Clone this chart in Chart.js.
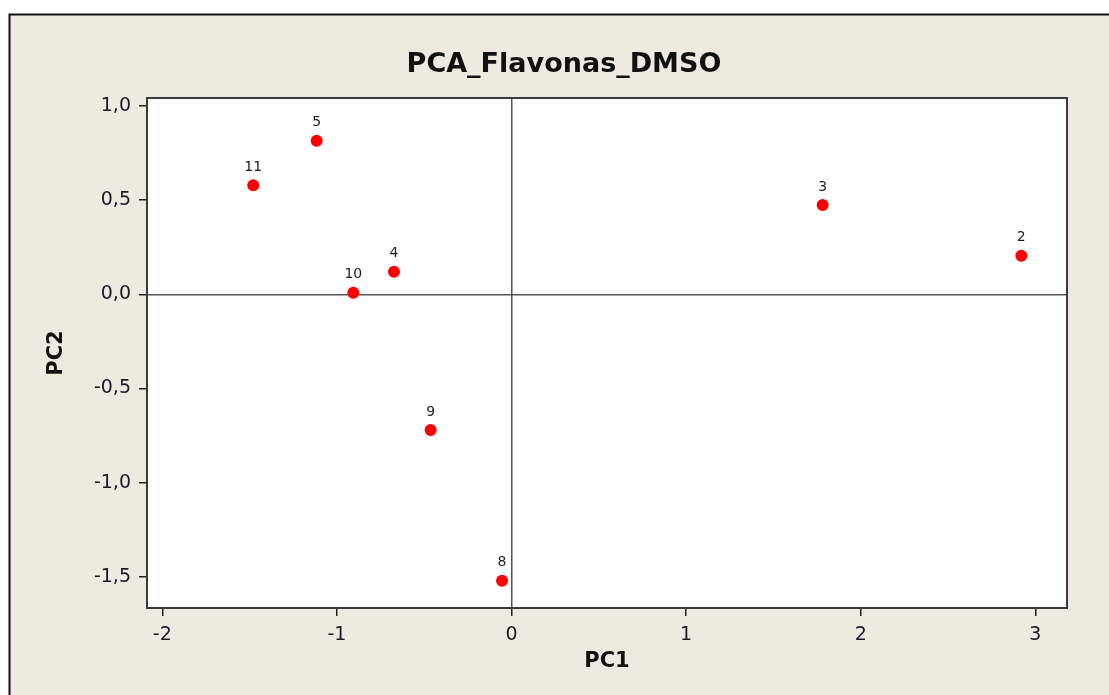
<!DOCTYPE html>
<html>
<head>
<meta charset="utf-8">
<title>PCA_Flavonas_DMSO</title>
<script src="https://cdn.jsdelivr.net/npm/chart.js@4.4.1/dist/chart.umd.min.js"></script>
<style>
  html, body { margin: 0; padding: 0; background: #ffffff; }
  #wrap { width: 1109px; height: 695px; }
</style>
</head>
<body>
<div id="wrap"><canvas id="pca" width="1109" height="695"></canvas></div>
<script>
// Scores of each flavone sample on the first two principal components
const sampleIds = ['2', '3', '4', '5', '8', '9', '10', '11'];
const pc1Scores = [2.920, 1.782, -0.673, -1.116, -0.054, -0.463, -0.906, -1.479];
const pc2Scores = [0.205, 0.474, 0.120, 0.816, -1.521, -0.721, 0.008, 0.579];

// Axis ticks
const pc1Ticks = [-2, -1, 0, 1, 2, 3];
const pc2Ticks = [1.0, 0.5, 0.0, -0.5, -1.0, -1.5];

const chartTitle = 'PCA_Flavonas_DMSO';
const xTitle = 'PC1';
const yTitle = 'PC2';

const FONT = '"DejaVu Sans", Verdana, Tahoma, sans-serif';
const FRAME_BG = '#eeeae0';
const TEXT = '#1b1b2a';

const points = pc1Scores.map((x, i) => ({ x: x, y: pc2Scores[i] }));

// Frame, plot background, title, point labels and plot border
const decorations = {
  id: 'decorations',
  beforeDraw(chart) {
    const { ctx, chartArea: a, width, height } = chart;
    ctx.save();
    ctx.fillStyle = '#ffffff';
    ctx.fillRect(0, 0, width, height);
    ctx.fillStyle = FRAME_BG;
    ctx.fillRect(10, 15, width - 10, height - 15);
    ctx.strokeStyle = '#111111';
    ctx.lineWidth = 2;
    ctx.beginPath();
    ctx.moveTo(9.5, height);
    ctx.lineTo(9.5, 14.5);
    ctx.lineTo(width, 14.5);
    ctx.stroke();
    ctx.fillStyle = '#ffffff';
    ctx.fillRect(a.left, a.top, a.right - a.left, a.bottom - a.top);
    ctx.restore();
  },
  afterDatasetsDraw(chart) {
    const { ctx } = chart;
    const meta = chart.getDatasetMeta(0);
    ctx.save();
    ctx.font = '14px ' + FONT;
    ctx.fillStyle = TEXT;
    ctx.textAlign = 'center';
    ctx.textBaseline = 'middle';
    meta.data.forEach((el, i) => {
      ctx.fillText(sampleIds[i], el.x, el.y - 18);
    });
    ctx.restore();
  },
  afterDraw(chart) {
    const { ctx, chartArea: a } = chart;
    ctx.save();
    ctx.strokeStyle = '#3a3a3a';
    ctx.lineWidth = 2;
    ctx.strokeRect(a.left, a.top, a.right - a.left, a.bottom - a.top);
    ctx.font = 'bold 27px ' + FONT;
    ctx.fillStyle = '#111111';
    ctx.textAlign = 'center';
    ctx.textBaseline = 'middle';
    ctx.fillText(chartTitle, 564, 65);
    ctx.restore();
  }
};

const zeroLine = (ctx) => (ctx.tick && ctx.tick.value === 0 ? '#555555' : 'rgba(0,0,0,0)');

new Chart(document.getElementById('pca'), {
  type: 'scatter',
  data: {
    datasets: [{
      data: points,
      backgroundColor: '#ff0000',
      borderWidth: 0,
      pointRadius: 6,
      pointHoverRadius: 6
    }]
  },
  options: {
    responsive: false,
    devicePixelRatio: 1,
    animation: false,
    events: [],
    layout: { padding: { left: 10, right: 42, top: 98, bottom: 10 } },
    plugins: {
      legend: { display: false },
      title: { display: false },
      tooltip: { enabled: false }
    },
    scales: {
      x: {
        type: 'linear',
        min: -2.0876,
        max: 3.1816,
        afterBuildTicks: (s) => { s.ticks = pc1Ticks.map(v => ({ value: v })); },
        afterFit: (s) => { s.height = 77; },
        border: { display: false },
        grid: {
          color: zeroLine,
          lineWidth: 1.5,
          drawTicks: true,
          tickLength: 8,
          tickColor: '#222222',
          tickWidth: 1.5
        },
        ticks: {
          padding: 8,
          color: TEXT,
          font: { family: FONT, size: 19 },
          maxRotation: 0,
          callback: (v) => String(v)
        },
        title: {
          display: true,
          text: xTitle,
          color: '#111111',
          font: { family: FONT, size: 21, weight: 'bold' },
          padding: { top: 0, bottom: 11 }
        }
      },
      y: {
        type: 'linear',
        min: -1.6662,
        max: 1.0425,
        afterBuildTicks: (s) => { s.ticks = pc2Ticks.map(v => ({ value: v })); },
        afterFit: (s) => { s.width = 137; },
        border: { display: false },
        grid: {
          color: zeroLine,
          lineWidth: 1.5,
          drawTicks: true,
          tickLength: 8,
          tickColor: '#222222',
          tickWidth: 1.5
        },
        ticks: {
          padding: 8,
          color: TEXT,
          font: { family: FONT, size: 19 },
          callback: (v) => v.toFixed(1).replace('.', ',')
        },
        title: {
          display: true,
          text: yTitle,
          color: '#111111',
          font: { family: FONT, size: 21, weight: 'bold' },
          padding: { top: 34, bottom: 0 }
        }
      }
    }
  },
  plugins: [decorations]
});
</script>
</body>
</html>
